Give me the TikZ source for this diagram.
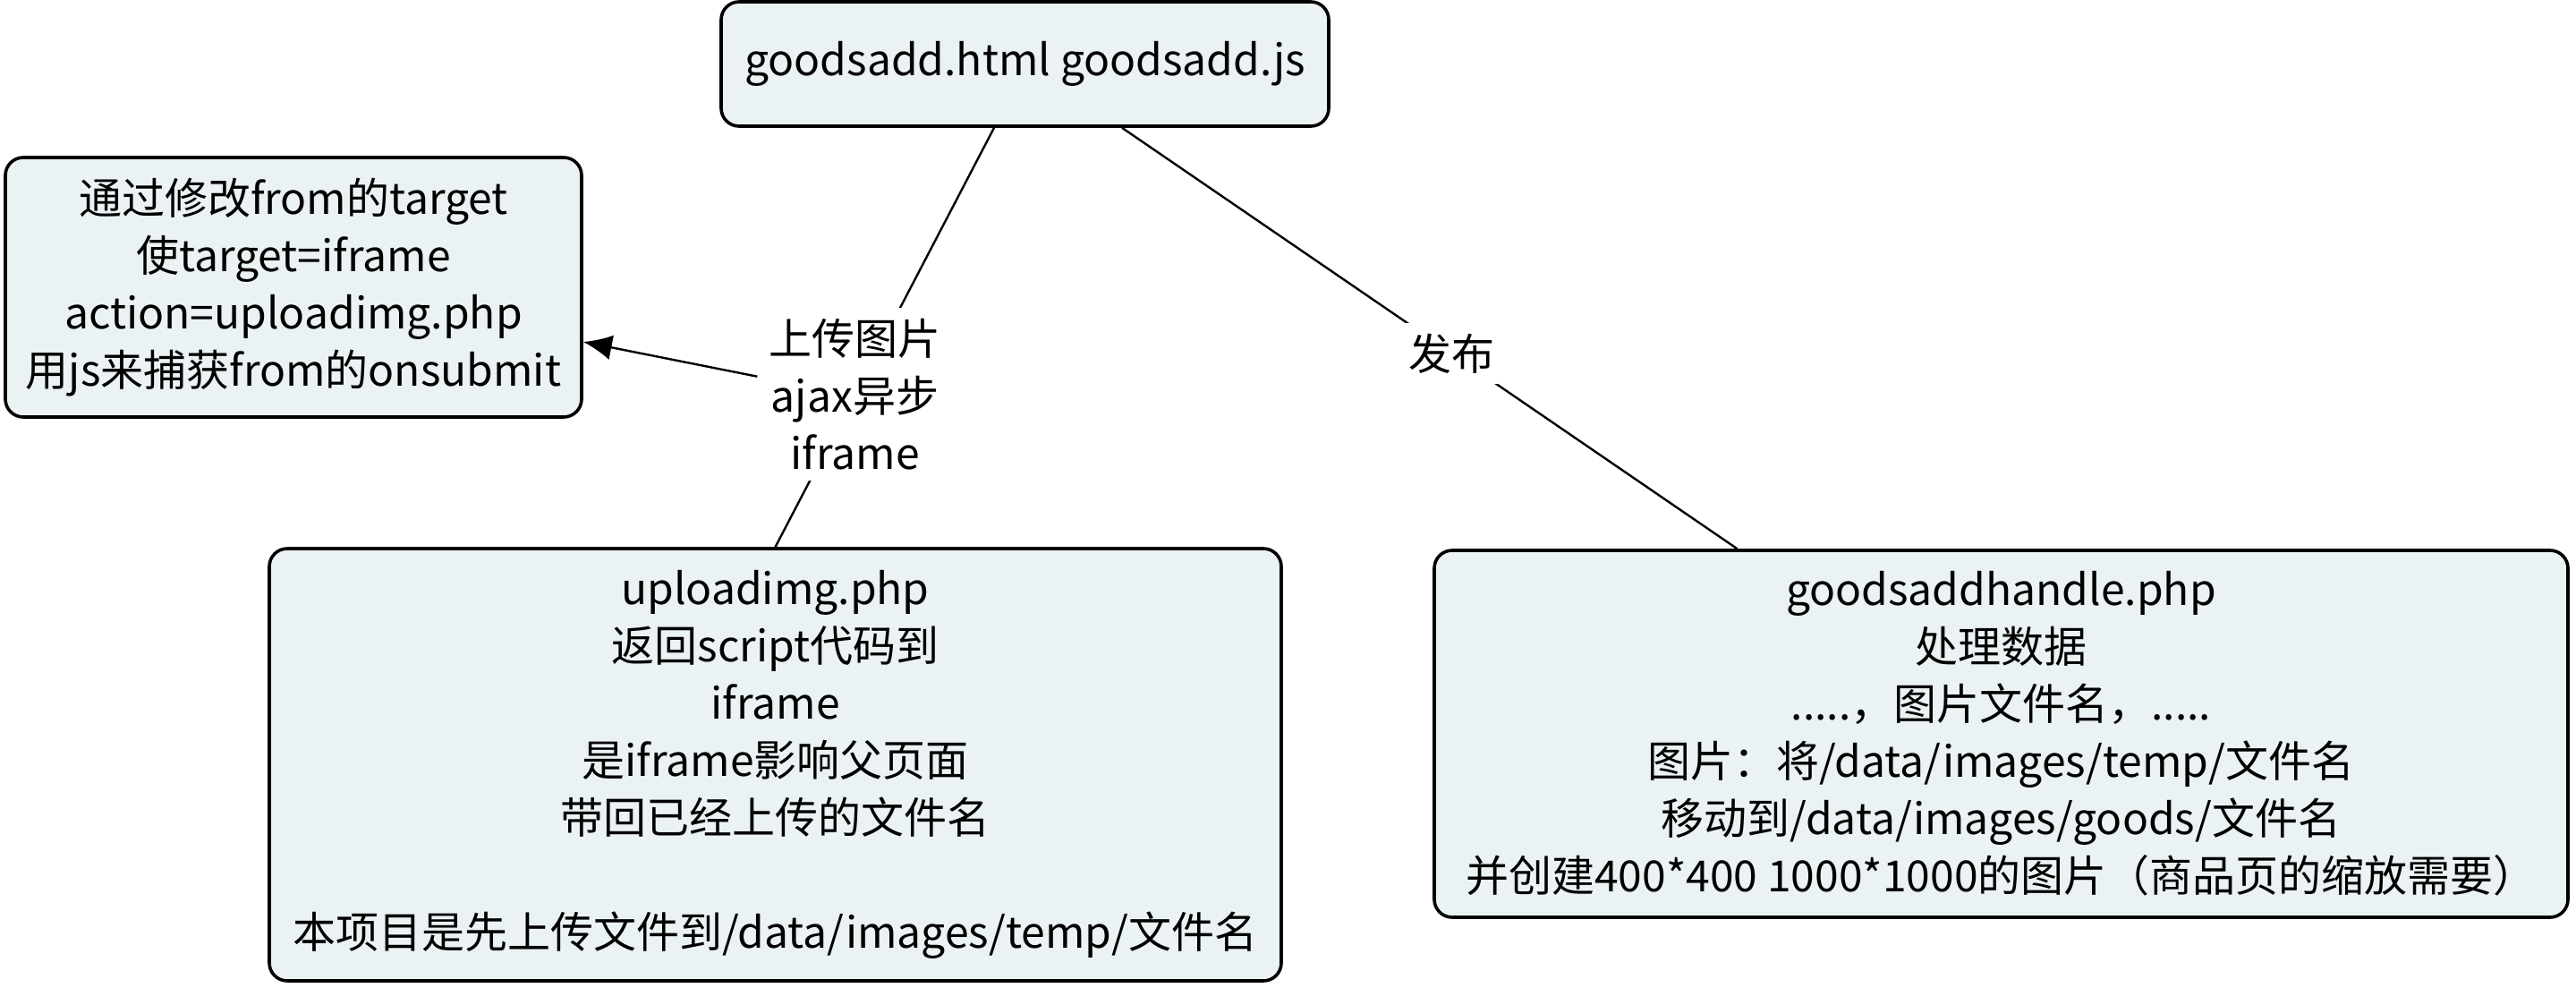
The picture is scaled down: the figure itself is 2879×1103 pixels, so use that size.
\documentclass[tikz,border=0pt]{standalone}
\usepackage{fontspec}
\setmainfont{Noto Sans CJK SC}
\usetikzlibrary{arrows.meta}
\definecolor{boxfill}{HTML}{EBF2F4}
\begin{document}
\begin{tikzpicture}[x=0.25pt,y=-0.25pt,
  box/.style={draw=black, line width=0.9pt, rounded corners=5pt, fill=boxfill,
    align=center, font=\fontsize{12}{16}\selectfont, inner sep=0pt},
  lbl/.style={fill=white, align=center, font=\fontsize{12}{16}\selectfont, inner sep=3pt},
  conn/.style={draw=black, line width=0.6pt}]
\useasboundingbox (0,0) rectangle (2879,1103);
\node[box, minimum width=169.75pt, minimum height=34.75pt] (top) at (1145.5,71.5) {goodsadd.html goodsadd.js};
\node[box, minimum width=161pt, minimum height=72.5pt] (left) at (328,321)
  {通过修改from的target\\使target=iframe\\action=uploadimg.php\\用js来捕获from的onsubmit};
\node[box, minimum width=282.75pt, minimum height=120.75pt] (upl) at (866.5,854.5)
  {uploadimg.php\\返回script代码到\\iframe\\是iframe影响父页面\\带回已经上传的文件名\\[16pt]本项目是先上传文件到/data/images/temp/文件名};
\node[box, minimum width=316.75pt, minimum height=102.5pt] (hdl) at (2236.5,820)
  {goodsaddhandle.php\\处理数据\\.....，图片文件名，.....\\图片：将/data/images/temp/文件名\\移动到/data/images/goods/文件名\\并创建400*400 1000*1000的图片（商品页的缩放需要）};
\draw[conn] ([xshift=-8.625pt]top.south) -- node[lbl, pos=0.636] (l1) {上传图片\\ajax异步\\iframe} (upl.north);
\draw[conn, -{Latex[length=8pt,width=7pt]}] ([yshift=5pt]l1.west) -- ([yshift=-15.25pt]left.east);
\draw[conn] ([xshift=27.125pt]top.south) -- node[lbl, pos=0.536] (l2) {发布} ([xshift=-73.75pt]hdl.north);
\end{tikzpicture}
\end{document}
